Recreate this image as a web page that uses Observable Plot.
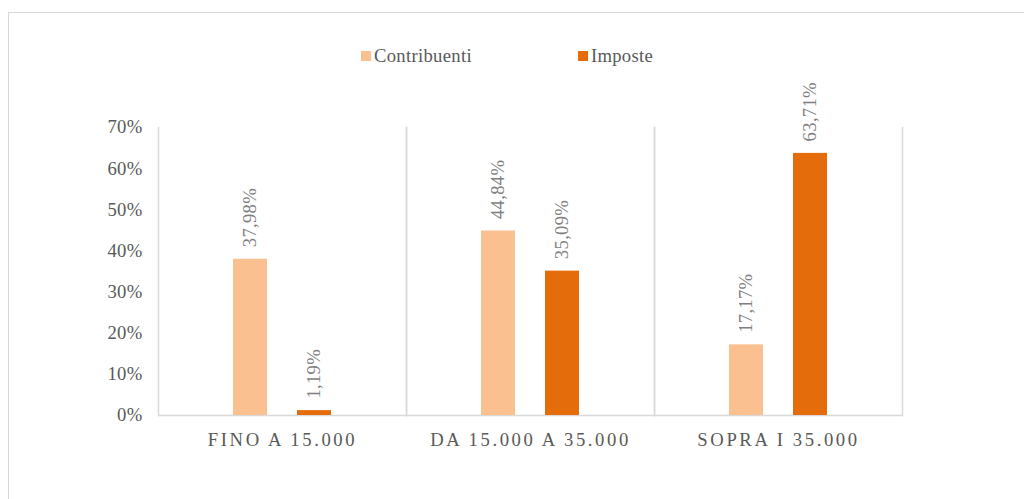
<!DOCTYPE html>
<html>
<head>
<meta charset="utf-8">
<script src="https://cdn.jsdelivr.net/npm/d3@7"></script>
<script src="https://cdn.jsdelivr.net/npm/@observablehq/plot@0.6"></script>
<style>
  html, body { margin: 0; padding: 0; background: #fff; width: 1024px; height: 499px; overflow: hidden; }
  #frame { position: absolute; left: 8px; top: 12px; width: 1100px; height: 600px; border: 1px solid #d9d9d9; box-sizing: border-box; }
  #legend { position: absolute; left: 361px; top: 45px; display: flex; align-items: center; font-family: "Liberation Serif", serif; font-size: 18.67px; color: #595959; letter-spacing: 0.3px; line-height: 22px; }
  #legend .item { display: flex; align-items: center; }
  #legend .sw { width: 10px; height: 10px; margin-right: 3px; }
  #chart { position: absolute; left: 0; top: 0; }
  #chart svg text { font-family: "Liberation Serif", serif !important; font-size: 18.67px !important; }
  #chart svg .fxlab text { letter-spacing: 2.6px; }
  #chart svg .ylab text { letter-spacing: 0.3px; }
  #chart svg .vlab text { letter-spacing: 0.3px; }
</style>
</head>
<body>
<div id="frame"></div>
<div id="legend"></div>
<div id="chart"></div>
<script>
const categories = ["FINO A 15.000", "DA 15.000 A 35.000", "SOPRA I 35.000"];
const seriesNames = ["Contribuenti", "Imposte"];
const contribuenti = [37.98, 44.84, 17.17];
const imposte = [1.19, 35.09, 63.71];
const yTicks = [0, 10, 20, 30, 40, 50, 60, 70];
const seriesColors = ["#FAC090", "#E46C0A"];

const data = categories.flatMap((c, i) => [
  {cat: c, series: seriesNames[0], value: contribuenti[i]},
  {cat: c, series: seriesNames[1], value: imposte[i]}
]);

// legend
const legend = document.getElementById("legend");
seriesNames.forEach((s, i) => {
  const item = document.createElement("div");
  item.className = "item";
  if (i > 0) item.style.marginLeft = "106px";
  const sw = document.createElement("span");
  sw.className = "sw";
  sw.style.background = seriesColors[i];
  const t = document.createElement("span");
  t.textContent = s;
  item.appendChild(sw); item.appendChild(t);
  legend.appendChild(item);
});

const fmt = v => v.toFixed(2).replace(".", ",") + "%";

const chart = Plot.plot({
  width: 1024,
  height: 499,
  marginTop: 127,
  marginBottom: 84,
  marginLeft: 158,
  marginRight: 122,
  style: {fontFamily: "'Liberation Serif', serif", fontSize: "18.67px", color: "#595959", background: "transparent", overflow: "visible"},
  fx: {domain: categories, padding: 0, label: null},
  x: {domain: seriesNames, paddingInner: 0.46875, paddingOuter: 1.171875, axis: null},
  y: {domain: [0, 70], label: null},
  color: {domain: seriesNames, range: seriesColors},
  marks: [
    Plot.axisY({ticks: yTicks, tickFormat: d => d + "%", tickSize: 0, tickPadding: 16, fontSize: 18.67, fill: "#595959", label: null, className: "ylab"}),
    Plot.axisFx({anchor: "bottom", tickSize: 0, tickPadding: 17, fontSize: 18.67, fill: "#595959", label: null, className: "fxlab"}),
    Plot.frame({anchor: "left", stroke: "#d9d9d9", strokeWidth: 1.5}),
    Plot.frame({anchor: "right", stroke: "#d9d9d9", strokeWidth: 1.5}),
    Plot.ruleY([0], {stroke: "#d9d9d9", strokeWidth: 1.5}),
    Plot.barY(data, {fx: "cat", x: "series", y: "value", fill: "series"}),
    Plot.text(data, {fx: "cat", x: "series", y: "value", text: d => fmt(d.value), rotate: -90, textAnchor: "start", dy: -12, fill: "#7f7f7f", fontSize: 18.67, className: "vlab"})
  ]
});
document.getElementById("chart").appendChild(chart);
</script>
</body>
</html>
